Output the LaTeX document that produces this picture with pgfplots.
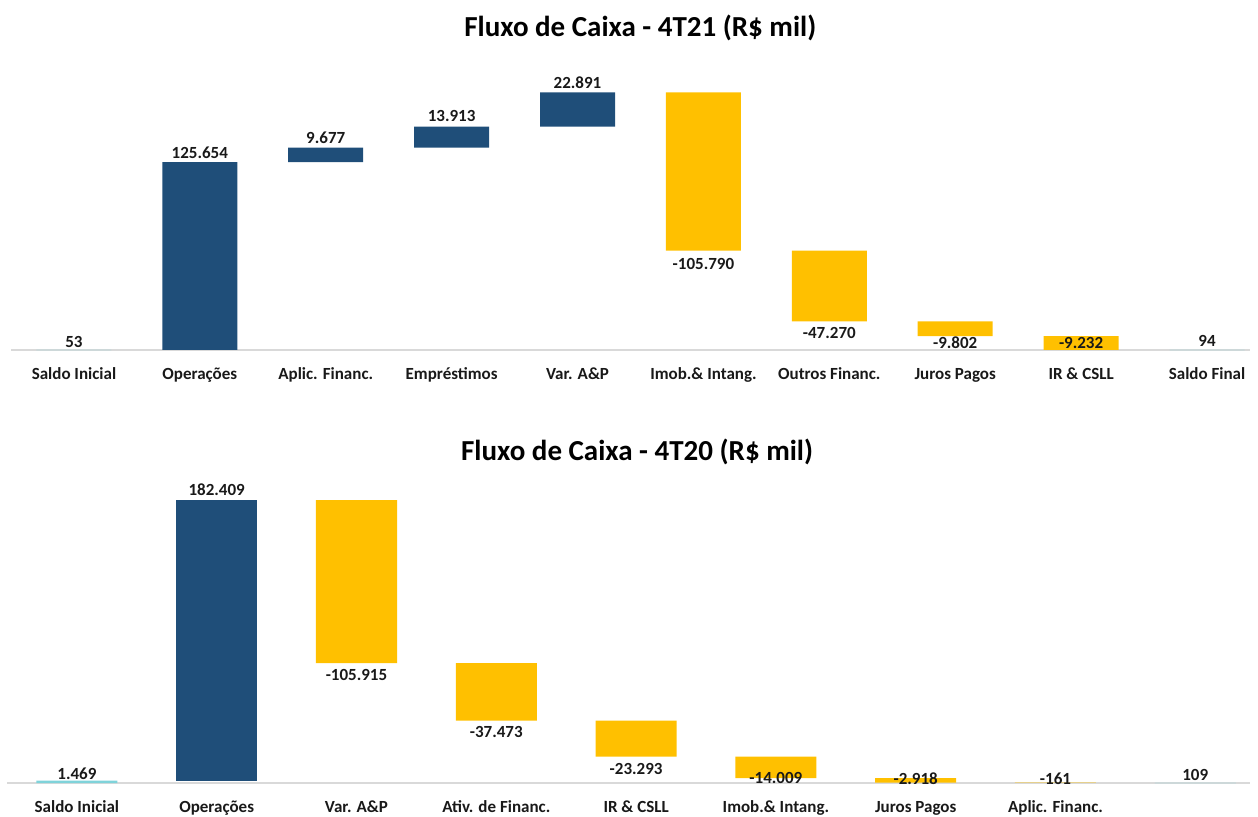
\documentclass[border=0pt]{standalone}
\usepackage{fontspec}
\setmainfont{Carlito}
\usepackage{pgfplots}
\usepackage{pgfplotstable}
\pgfplotsset{compat=1.18}
\definecolor{cfblue}{HTML}{1F4E79}
\definecolor{cfyellow}{HTML}{FFC000}
\definecolor{cfteal}{HTML}{7FD3DA}
\definecolor{cfline}{HTML}{D9D9D9}

% top chart (4T21): invisible base, saldo, increase, decrease
\pgfplotstableread{
x base saldo up down
0 0 53 0 0
1 53 0 125654 0
2 125707 0 9677 0
3 135384 0 13913 0
4 149297 0 22891 0
5 66398 0 0 105790
6 19128 0 0 47270
7 9326 0 0 9802
8 94 0 0 9232
9 0 94 0 0
}\topdata
\pgfplotstableread{
x y lbl
0 5300 53
1 131700 125.654
2 141700 9.677
3 156400 13.913
4 178500 22.891
5 57500 -105.790
6 11400 -47.270
7 4700 -9.802
8 4700 -9.232
9 6000 94
}\toplabels

% bottom chart (4T20)
\pgfplotstableread{
x base saldo up down
0 0 1469 0 0
1 1469 0 182409 0
2 77963 0 0 105915
3 40490 0 0 37473
4 17197 0 0 23293
5 3188 0 0 14009
6 270 0 0 2918
7 109 0 0 161
8 0 109 0 0
}\botdata
\pgfplotstableread{
x y lbl
0 5800 1.469
1 190400 182.409
2 70200 -105.915
3 33100 -37.473
4 9100 -23.293
5 3200 -14.009
6 2600 -2.918
7 2600 -161
8 5200 109
}\botlabels

\pgfplotsset{
  geomtop/.style={scale only axis, at={(5.5pt,233pt)}, anchor=south west,
    width=619.4pt, height=134.6pt, xmin=-0.5, xmax=9.34, ymin=0, ymax=180000, clip=false},
  geombot/.style={scale only axis, at={(3.5pt,16.5pt)}, anchor=south west,
    width=621.4pt, height=146.2pt, xmin=-0.5, xmax=8.39, ymin=0, ymax=190000, clip=false},
  wf/.style={
    ybar stacked,
    axis x line=bottom,
    axis y line=none,
    axis line style={draw=cfline, line width=0.6pt, -},
    xtick=data,
    major tick length=0pt,
    typeset ticklabels with strut,
    xticklabel style={font=\bfseries\fontsize{8.5}{10}\selectfont, text=black!90, yshift=-4pt},
    title style={font=\bfseries\fontsize{14.5}{17}\selectfont, anchor=center},
  },
  lblaxis/.style={hide axis},
  lbls/.style={only marks, mark=none,
    nodes near coords, point meta=explicit symbolic,
    nodes near coords align={center},
    every node near coord/.append style={font=\bfseries\fontsize{8.5}{10}\selectfont, text=black!90, anchor=center}},
}

\begin{document}
\begin{tikzpicture}
\path[use as bounding box] (0,0) rectangle (629pt,408pt);

\begin{axis}[geomtop, wf,
  bar width=37.5pt,
  xticklabels={Saldo Inicial,Operações,Aplic. Financ.,Empréstimos,Var. A\&P,Imob.\& Intang.,Outros Financ.,Juros Pagos,IR \& CSLL,Saldo Final},
  title={Fluxo de Caixa - 4T21 (R\$ mil)},
  title style={at={(0.508,1.151)}},
]
\addplot[draw=none, fill=none] table[x=x, y=base] {\topdata};
\addplot[draw=none, fill=cfteal] table[x=x, y=saldo] {\topdata};
\addplot[draw=none, fill=cfblue] table[x=x, y=up] {\topdata};
\addplot[draw=none, fill=cfyellow] table[x=x, y=down] {\topdata};
\end{axis}
\begin{axis}[geomtop, lblaxis]
\addplot[lbls] table[x=x, y=y, meta=lbl] {\toplabels};
\end{axis}

\begin{axis}[geombot, wf,
  bar width=40.5pt,
  xticklabels={Saldo Inicial,Operações,Var. A\&P,Ativ. de Financ.,IR \& CSLL,Imob.\& Intang.,Juros Pagos,Aplic. Financ.,{}},
  title={Fluxo de Caixa - 4T20 (R\$ mil)},
  title style={at={(0.507,1.091)}},
]
\addplot[draw=none, fill=none] table[x=x, y=base] {\botdata};
\addplot[draw=none, fill=cfteal] table[x=x, y=saldo] {\botdata};
\addplot[draw=none, fill=cfblue] table[x=x, y=up] {\botdata};
\addplot[draw=none, fill=cfyellow] table[x=x, y=down] {\botdata};
\end{axis}
\begin{axis}[geombot, lblaxis]
\addplot[lbls] table[x=x, y=y, meta=lbl] {\botlabels};
\end{axis}
\end{tikzpicture}
\end{document}
